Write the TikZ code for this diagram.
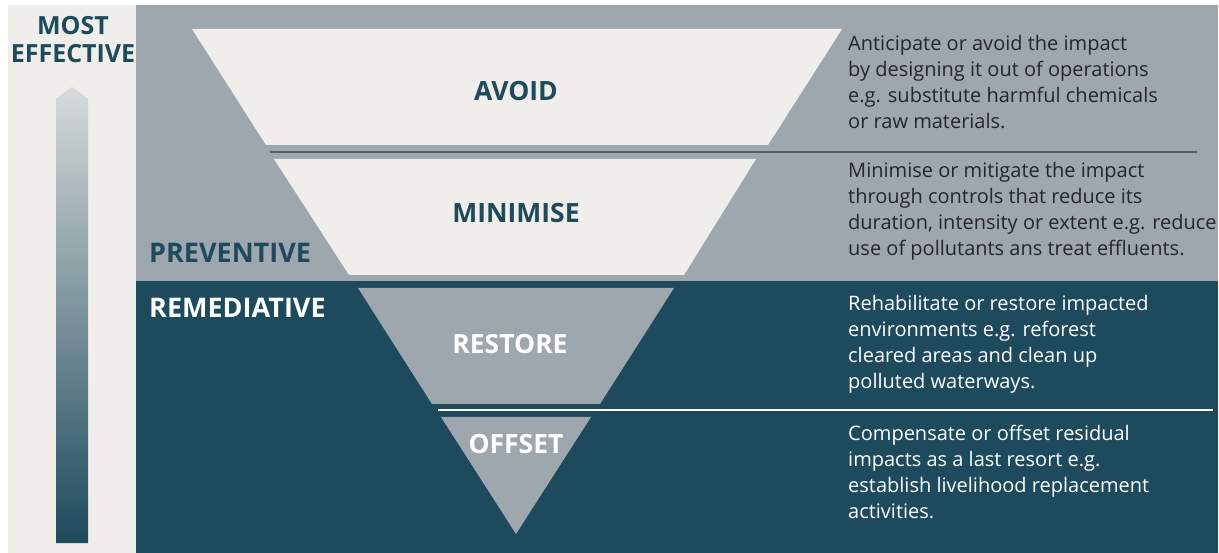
\documentclass[tikz,border=0pt]{standalone}
\usepackage{fontspec}
\setmainfont{Open Sans}
\definecolor{bgbeige}{HTML}{EFEEEA}
\definecolor{midgrey}{HTML}{9FA7AE}
\definecolor{deepteal}{HTML}{1D4A5C}
\definecolor{arrowtop}{HTML}{D7DBDA}
\definecolor{bodytext}{HTML}{262628}
\definecolor{rulegrey}{HTML}{575C60}
\begin{document}
\begin{tikzpicture}[x=1pt,y=-1pt,
  title/.style={font=\fontsize{26.5}{30}\selectfont\bfseries, inner sep=0pt},
  topline/.style={font=\fontsize{25}{30}\selectfont\bfseries, inner sep=0pt, anchor=base},
  side/.style={font=\fontsize{27}{30}\selectfont\bfseries, inner sep=0pt, anchor=base west},
  desc/.style={font=\fontsize{20}{26}\selectfont, align=left, inner sep=0pt, anchor=north west}]
\useasboundingbox (0,0) rectangle (1219,553);
\fill[white] (0,0) rectangle (1219,553);
% backgrounds
\fill[bgbeige] (8,5) rectangle (136,553);
\fill[midgrey] (136,5) rectangle (1218,281);
\fill[deepteal] (136,281) rectangle (1218,553);
% effectiveness arrow
\shade[top color=arrowtop, bottom color=deepteal] (56,543) -- (56,99) -- (72,87) -- (88,99) -- (88,543) -- cycle;
% funnel
\fill[bgbeige] (192,29) -- (842,29) -- (768,145) -- (266,145) -- cycle;
\fill[bgbeige] (274,159) -- (756,159) -- (684,275) -- (349,275) -- cycle;
\fill[midgrey] (358,288) -- (674,288) -- (600,404) -- (432,404) -- cycle;
\fill[midgrey] (441,417) -- (591,417) -- (516,534) -- cycle;
% separators
\coordinate (l1a) at (270,152);
\coordinate (l1b) at (1197,152);
\draw[rulegrey, line width=1.3pt] (l1a) -- (l1b);
\coordinate (l2a) at (438,410);
\coordinate (l2b) at (1213,410);
\draw[white, line width=1.3pt] (l2a) -- (l2b);
% titles
\node[title, text=deepteal] (avoid) at (516,91) {AVOID};
\node[title, text=deepteal] (minimise) at (516,213) {MINIMISE};
\node[title, text=white] (restore) at (510,344) {RESTORE};
\node[title, text=white] (offset) at (516,444) {OFFSET};
\node[side, text=deepteal] (preventive) at (149,263) {PREVENTIVE};
\node[side, text=white] (remediative) at (149,318) {REMEDIATIVE};
\node[topline, text=deepteal] (most) at (73,35) {MOST};
\node[topline, text=deepteal] (effective) at (73,63) {EFFECTIVE};
% descriptions
\node[desc, text=bodytext] (d1) at (848,35) {Anticipate or avoid the impact\\by designing it out of operations\\e.g. substitute harmful chemicals\\or raw materials.};
\node[desc, text=bodytext] (d2) at (848,162.5) {Minimise or mitigate the impact\\through controls that reduce its\\duration, intensity or extent e.g. reduce\\use of pollutants ans treat effluents.};
\node[desc, text=white] (d3) at (848,295) {Rehabilitate or restore impacted\\environments e.g. reforest\\cleared areas and clean up\\polluted waterways.};
\node[desc, text=white] (d4) at (848,424.5) {Compensate or offset residual\\impacts as a last resort e.g.\\establish livelihood replacement\\activities.};
\end{tikzpicture}
\end{document}
